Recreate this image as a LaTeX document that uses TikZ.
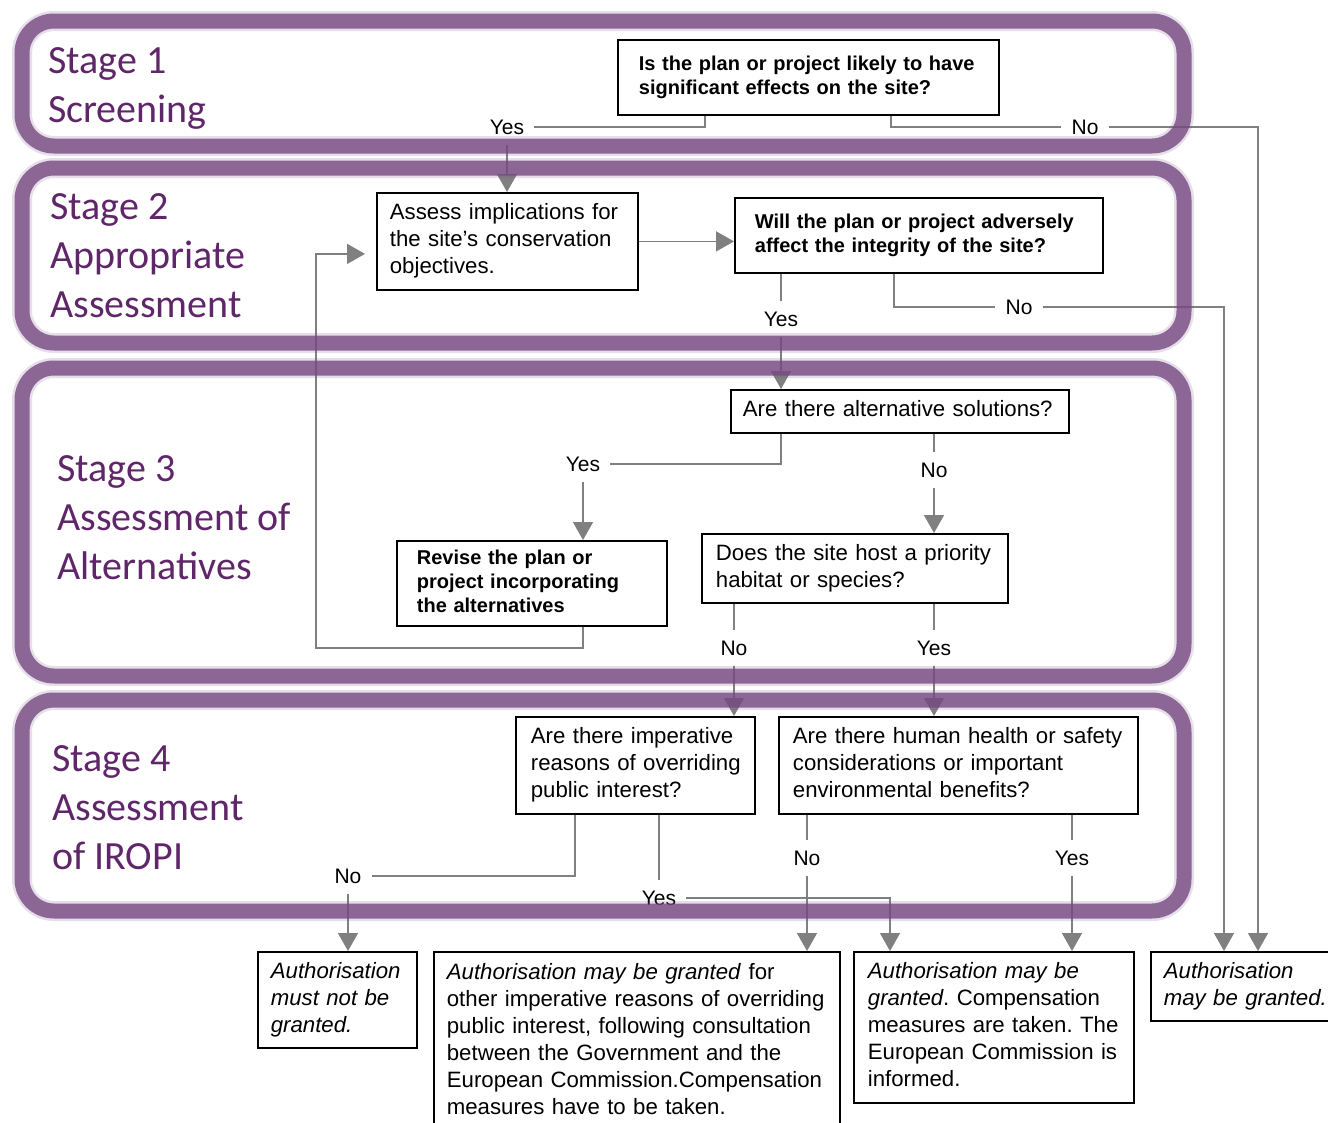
\documentclass[tikz,border=0pt]{standalone}
\usepackage{fontspec}
\setmainfont{Liberation Sans}
\newfontfamily\stagefont{Carlito}
\usetikzlibrary{arrows.meta}
\definecolor{framec}{RGB}{118,74,130}
\definecolor{stagec}{RGB}{95,38,105}
\definecolor{connc}{RGB}{128,128,128}
\newcommand\tbx[1]{\begin{tabular}{@{}l@{}}#1\end{tabular}}
\frenchspacing
\begin{document}
\begin{tikzpicture}[x=1pt,y=-1pt,
  box/.style={draw=black, line width=1.8pt, fill=white, align=left, anchor=north west, inner ysep=0pt, font=\fontsize{22.2}{27}\selectfont},
  bbox/.style={box, font=\fontsize{20}{24}\selectfont\bfseries},
  lab/.style={inner sep=10pt, font=\fontsize{21}{25}\selectfont},
  conn/.style={draw=connc, line width=1.5pt},
  arr/.style={conn, -{Triangle[width=20pt,length=18pt]}},
  stage/.style={text=stagec, align=left, anchor=north west, inner sep=0pt, font=\stagefont\fontsize{40}{49}\selectfont},
  frame/.style={draw=framec, line width=15pt, rounded corners=32pt, opacity=0.8},
  frameglow/.style={draw=framec, line width=20pt, rounded corners=32pt, opacity=0.18}
]
\fill[white] (0,0) rectangle (1328,1122);
\useasboundingbox (0,0) rectangle (1328,1122);

% stage titles
\node[stage] (s1) at (48,47) {Stage 1\\Screening};
\node[stage] (s2) at (50,193) {Stage 2\\Appropriate\\Assessment};
\node[stage] (s3) at (57,455) {Stage 3\\Assessment of\\Alternatives};
\node[stage] (s4) at (52,745) {Stage 4\\Assessment\\of IROPI};

% question boxes
\node[bbox, inner xsep=21pt, text width=339pt, minimum width=381pt, minimum height=75pt] (b1) at (617,39)
  {\tbx{Is the plan or project likely to have\\significant effects on the site?}};
\node[box, inner xsep=13pt, text width=235pt, minimum width=261pt, minimum height=97pt] (b2) at (376,192)
  {\tbx{Assess implications for\\the site’s conservation\\objectives.}};
\node[bbox, inner xsep=20pt, text width=328pt, minimum width=368pt, minimum height=75pt] (b3) at (734,197)
  {\tbx{Will the plan or project adversely\\affect the integrity of the site?}};
\node[box, inner xsep=12pt, text width=314pt, minimum width=338pt, minimum height=43pt] (b4) at (730,389)
  {\tbx{Are there alternative solutions?}};
\node[bbox, inner xsep=20pt, text width=230pt, minimum width=270pt, minimum height=85pt] (b5) at (396,540)
  {\tbx{Revise the plan or\\project incorporating\\the alternatives}};
\node[box, inner xsep=14pt, text width=278pt, minimum width=306pt, minimum height=69pt] (b6) at (701,533)
  {\tbx{Does the site host a priority\\habitat or species?}};
\node[box, inner xsep=15pt, text width=209pt, minimum width=239pt, minimum height=97pt] (b7) at (515,716)
  {\tbx{Are there imperative\\reasons of overriding\\public interest?}};
\node[box, inner xsep=14pt, text width=331pt, minimum width=359pt, minimum height=97pt] (b8) at (778,716)
  {\tbx{Are there human health or safety\\considerations or important\\environmental benefits?}};

% outcome boxes
\node[box, inner xsep=13pt, text width=133pt, minimum width=159pt, minimum height=96pt] (e1) at (257,951)
  {\tbx{\textit{Authorisation}\\\textit{must not be}\\\textit{granted.}}};
\node[box, inner xsep=13pt, inner ysep=9pt, text width=380pt, minimum width=406pt] (e2) at (433,951)
  {\tbx{\textit{Authorisation may be granted} for\\other imperative reasons of overriding\\public interest, following consultation\\between the Government and the\\European Commission.Compensation\\measures have to be taken.}};
\node[box, inner xsep=14pt, text width=252pt, minimum width=280pt, minimum height=151pt] (e3) at (853,951)
  {\tbx{\textit{Authorisation may be}\\\textit{granted}. Compensation\\measures are taken. The\\European Commission is\\informed.}};
\node[box, inner xsep=13pt, text width=164pt, minimum width=190pt, minimum height=69pt] (e4) at (1150,951)
  {\tbx{\textit{Authorisation}\\\textit{may be granted.}}};

% labels
\node[lab] (yes1) at (507,127) {Yes};
\node[lab] (no1) at (1085,127) {No};
\node[lab] (yes2) at (781,319) {Yes};
\node[lab] (no2) at (1019,307) {No};
\node[lab] (yes3) at (583,464) {Yes};
\node[lab] (no3) at (934,470) {No};
\node[lab] (no4) at (734,648) {No};
\node[lab] (yes4) at (934,648) {Yes};
\node[lab] (no5) at (348,876) {No};
\node[lab] (yes5) at (659,898) {Yes};
\node[lab] (no6) at (807,858) {No};
\node[lab] (yes6) at (1072,858) {Yes};
\coordinate (loopc) at (316,648);

% connectors
\draw[conn] ([xshift=88pt]b1.south west) |- (yes1.east);
\draw[arr] (yes1.south) -- (yes1.south |- b2.north);
\draw[conn] ([xshift=274pt]b1.south west) |- (no1.west);
\draw[arr] (no1.east) -| ([xshift=108pt]e4.north west);
\draw[arr] (b2.east) -- (b2.east -| b3.west);
\draw[conn] ([xshift=47pt]b3.south west) -- (yes2.north);
\draw[arr] (yes2.south) -- (yes2.south |- b4.north);
\draw[conn] ([xshift=160pt]b3.south west) |- (no2.west);
\draw[arr] (no2.east) -| ([xshift=74pt]e4.north west);
\draw[conn] ([xshift=51pt]b4.south west) |- (yes3.east);
\draw[arr] (yes3.south) -- (yes3.south |- b5.north);
\draw[conn] ([xshift=204pt]b4.south west) -- (no3.north);
\draw[arr] (no3.south) -- (no3.south |- b6.north);
\draw[arr] ([xshift=187pt]b5.south west) |- (loopc) |- ([xshift=-11pt,yshift=-12.5pt]b2.west);
\draw[conn] ([xshift=33pt]b6.south west) -- (no4.north);
\draw[arr] (no4.south) -- (no4.south |- b7.north);
\draw[conn] ([xshift=233pt]b6.south west) -- (yes4.north);
\draw[arr] (yes4.south) -- (yes4.south |- b8.north);
\draw[conn] ([xshift=60pt]b7.south west) |- (no5.east);
\draw[arr] (no5.south) -- (no5.south |- e1.north);
\draw[conn] ([xshift=144pt]b7.south west) -- (yes5.north);
\draw[arr] (yes5.east) -| ([xshift=37pt]e3.north west);
\draw[conn] ([xshift=29pt]b8.south west) -- (no6.north);
\draw[arr] (no6.south) -- (no6.south |- e2.north);
\draw[conn] ([xshift=294pt]b8.south west) -- (yes6.north);
\draw[arr] (yes6.south) -- (yes6.south |- e3.north);

% stage frames
\foreach \ya/\yb in {21/146, 168/343, 368/676, 700/911}{
  \draw[frameglow] (22,\ya) rectangle (1184,\yb);
  \draw[frame] (22,\ya) rectangle (1184,\yb);
}
\end{tikzpicture}
\end{document}
